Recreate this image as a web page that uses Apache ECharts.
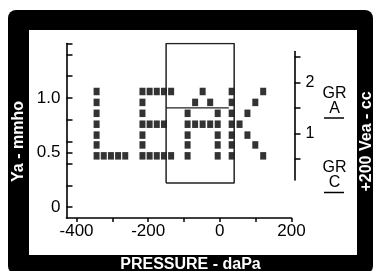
<!DOCTYPE html>
<html lang="en">
  <head>
    <meta charset="UTF-8" />
    <title>Tympanogram LEAK</title>
    <script src="https://cdn.jsdelivr.net/npm/echarts@6.0.0/dist/echarts.min.js"></script>
    <style>
      html, body { margin: 0; padding: 0; background: #fff; }
    </style>
  </head>
  <body>
    <div id="main" style="width: 374px; height: 271px"></div>
    <script type="text/javascript">
      // axis ticks and labels
      const pressureTicks = [-400, -300, -200, -100, 0, 100, 200];
      const pressureLabels = [-400, -200, 0, 200];
      const yaTicks = [0, 0.2, 0.4, 0.5, 0.6, 0.8, 1.0, 1.2, 1.4, 1.5];
      const yaLabels = [0, 0.5, 1.0];
      const veaTicks = [0.5, 1, 1.5, 2, 2.5];
      const veaLabels = [1, 2];

      // dot-matrix "LEAK" message, [pressure, Ya]
      const leakL = [
        [-344, 0.47], [-344, 0.57], [-344, 0.66], [-344, 0.76], [-344, 0.86], [-344, 0.96], [-344, 1.06],
        [-324, 0.47], [-304, 0.47], [-284, 0.47], [-264, 0.47]
      ];
      const leakE = [
        [-216, 0.47], [-216, 0.57], [-216, 0.66], [-216, 0.76], [-216, 0.86], [-216, 0.96], [-216, 1.06],
        [-196, 1.06], [-176, 1.06], [-156, 1.06], [-136, 1.06],
        [-196, 0.76], [-176, 0.76], [-156, 0.76],
        [-196, 0.47], [-176, 0.47], [-156, 0.47], [-136, 0.47]
      ];
      const leakA = [
        [-48, 1.06],
        [-69, 0.96], [-27, 0.96],
        [-90, 0.86], [-6, 0.86],
        [-90, 0.76], [-69, 0.76], [-48, 0.76], [-27, 0.76], [-6, 0.76],
        [-90, 0.66], [-6, 0.66],
        [-90, 0.57], [-6, 0.57],
        [-90, 0.47], [-6, 0.47]
      ];
      const leakK = [
        [33, 0.47], [33, 0.57], [33, 0.66], [33, 0.76], [33, 0.86], [33, 0.96], [33, 1.06],
        [55, 0.76],
        [77, 0.86], [77, 0.66],
        [99, 0.96], [99, 0.57],
        [121, 1.06], [121, 0.47]
      ];

      // normal range box and the partial trace
      const normalBox = [[-150, 0.22], [-150, 1.5], [40, 1.5], [40, 0.22], [-150, 0.22]];
      const trace = [[-150, 0.91], [25, 0.91]];

      const FONT = '"Liberation Sans", Arial, Helvetica, sans-serif';

      let myChart = echarts.init(document.getElementById("main"));

      const dotSeries = (data) => ({
        type: "scatter",
        xAxisIndex: 0,
        yAxisIndex: 0,
        symbol: "rect",
        symbolSize: [6, 7.5],
        itemStyle: { color: "#000" },
        data: data,
      });

      const lineSeries = (data, width) => ({
        type: "line",
        xAxisIndex: 0,
        yAxisIndex: 0,
        showSymbol: false,
        lineStyle: { color: "#222", width: width },
        data: data,
      });

      const whiteText = (text, x, y) => ({
        type: "text",
        x: x,
        y: y,
        rotation: Math.PI / 2,
        style: {
          text: text,
          fill: "#fff",
          font: "bold 16px " + FONT,
          align: "center",
          verticalAlign: "middle",
        },
      });

      const blackText = (text, x, y) => ({
        type: "text",
        x: x,
        y: y,
        style: {
          text: text,
          fill: "#000",
          font: "16px " + FONT,
          align: "center",
          verticalAlign: "middle",
        },
      });

      const underline = (x1, x2, y) => ({
        type: "line",
        shape: { x1: x1, y1: y, x2: x2, y2: y },
        style: { stroke: "#000", lineWidth: 1.5 },
      });

      const axisLine = { show: true, onZero: false, lineStyle: { color: "#000", width: 1.6 } };

      let options = {
        animation: false,
        backgroundColor: "#fff",
        textStyle: { fontFamily: FONT },
        grid: [
          { left: 66.5, top: 43.5, width: 225, height: 174.5, outerBoundsMode: "none" },
          { left: 200, top: 51.5, width: 94.5, height: 128.5, outerBoundsMode: "none" },
        ],
        xAxis: [
          {
            type: "value",
            gridIndex: 0,
            min: -428,
            max: 200,
            axisLine: axisLine,
            axisTick: { show: true, length: 4, customValues: pressureTicks, lineStyle: { color: "#000", width: 1.5 } },
            axisLabel: { customValues: pressureLabels, color: "#000", fontSize: 17, margin: 5 },
            splitLine: { show: false },
          },
          {
            type: "value",
            gridIndex: 1,
            show: false,
            min: 0,
            max: 1,
          },
        ],
        yAxis: [
          {
            type: "value",
            gridIndex: 0,
            min: -0.1,
            max: 1.5,
            axisLine: axisLine,
            axisTick: { show: true, inside: true, length: 6, customValues: yaTicks, lineStyle: { color: "#000", width: 1.5 } },
            axisLabel: {
              customValues: yaLabels,
              color: "#000",
              fontSize: 17,
              margin: 6,
              formatter: (v) => (v === 0 ? "0" : v.toFixed(1)),
            },
            splitLine: { show: false },
          },
          {
            type: "value",
            gridIndex: 1,
            position: "right",
            min: 0.08,
            max: 2.61,
            axisLine: axisLine,
            axisTick: { show: true, length: 6, customValues: veaTicks, lineStyle: { color: "#000", width: 1.5 } },
            axisLabel: {
              customValues: veaLabels,
              color: "#000",
              fontSize: 16,
              margin: 11,
              padding: [11, 0, 0, 0],
            },
            splitLine: { show: false },
          },
        ],
        graphic: [
          {
            type: "rect",
            z: -10,
            silent: true,
            shape: { x: 8, y: 10, width: 365, height: 264, r: 8 },
            style: { fill: "#000" },
          },
          {
            type: "rect",
            z: -9,
            silent: true,
            shape: { x: 29, y: 30, width: 328, height: 225 },
            style: { fill: "#fff" },
          },
          whiteText("Ya - mmho", 18.5, 141.5),
          whiteText("+200 Vea - cc", 366.5, 141.5),
          {
            type: "text",
            x: 190.5,
            y: 265,
            style: {
              text: "PRESSURE - daPa",
              fill: "#fff",
              font: "bold 16px " + FONT,
              align: "center",
              verticalAlign: "middle",
            },
          },
          blackText("GR", 334.5, 93.5),
          blackText("A", 334.5, 109),
          underline(324, 344, 118),
          blackText("GR", 334.5, 168),
          blackText("C", 334.5, 183),
          underline(324, 344, 192.5),
        ],
        series: [
          lineSeries(normalBox, 1.5),
          lineSeries(trace, 1.2),
          dotSeries(leakL),
          dotSeries(leakE),
          dotSeries(leakA),
          dotSeries(leakK),
        ],
      };

      myChart.setOption(options);
    </script>
  </body>
</html>
